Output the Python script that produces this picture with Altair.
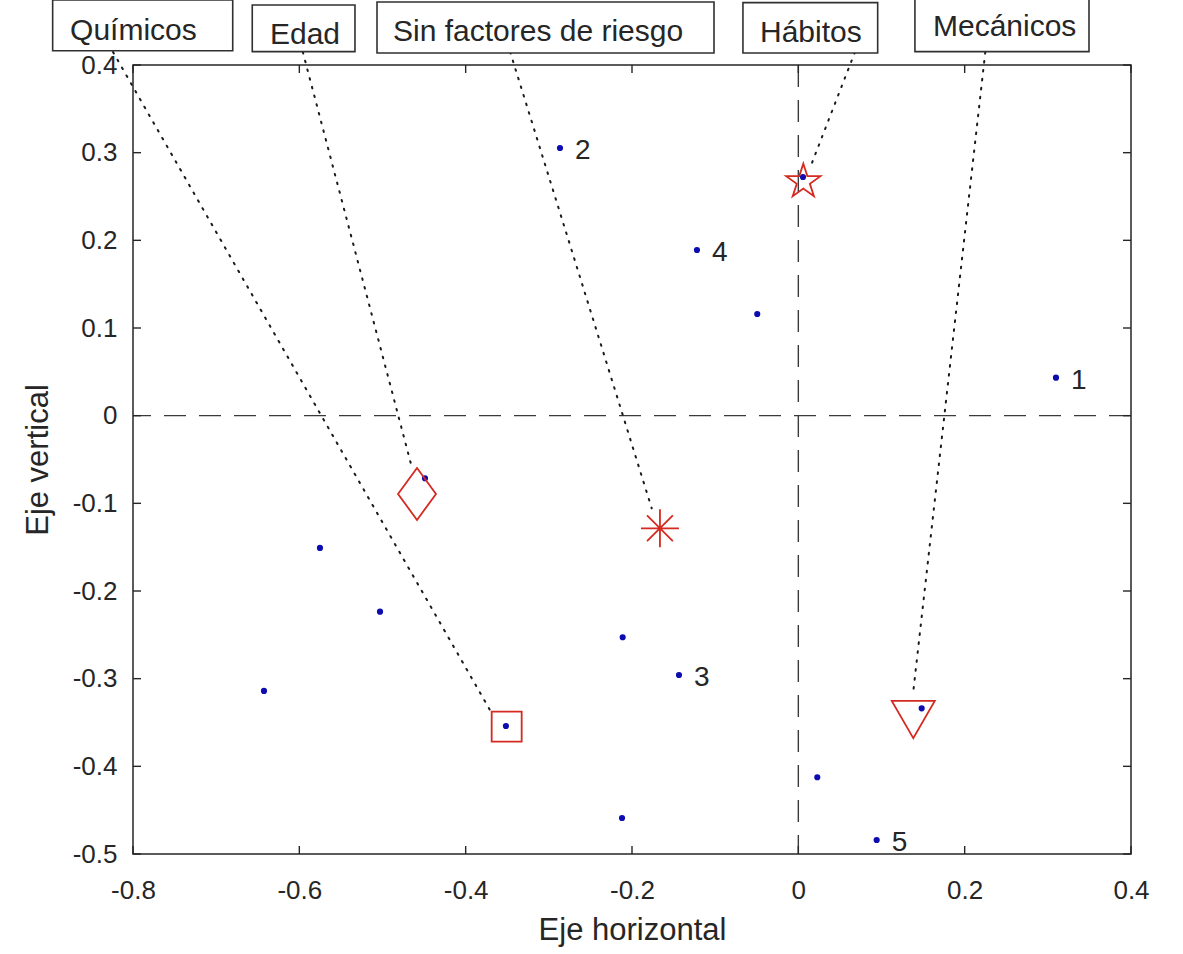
import altair as alt
import pandas as pd

FONT = "Liberation Sans"
INK = "#262626"
RED = "#d42a20"
BLUE = "#0c0cb0"

# Observations (blue dots); the first five carry a number label
obs_x = [0.3098, -0.2866, -0.1435, -0.1219, 0.0942, -0.0494, 0.0056, -0.5752,
         -0.5030, -0.6425, -0.2112, -0.2120, -0.3516, 0.0228, 0.1483, -0.4489]
obs_y = [0.0433, 0.3053, -0.2958, 0.1890, -0.4840, 0.1160, 0.2722, -0.1509,
         -0.2236, -0.3140, -0.2528, -0.4589, -0.3540, -0.4125, -0.3338, -0.0714]
obs_label = ["1", "2", "3", "4", "5"] + [""] * 11

# Group centroids (red markers)
groups = ["Químicos", "Edad", "Sin factores de riesgo", "Hábitos", "Mecánicos"]
grp_x = [-0.3507, -0.4585, -0.1664, 0.0060, 0.1382]
grp_y = [-0.3548, -0.0893, -0.1285, 0.2669, -0.3466]

# Dotted connectors from each group box down to its centroid
link_x0 = [-0.8240, -0.5958, -0.3465, 0.0681, 0.2248]
link_y0 = [0.4148, 0.4148, 0.4148, 0.4148, 0.4148]
link_x1 = [-0.3708, -0.4645, -0.1763, 0.0140, 0.1382]
link_y1 = [-0.3357, -0.0597, -0.1057, 0.2825, -0.3148]

# Framed group names above the axes
box_x0 = [-0.8966, -0.6566, -0.5066, -0.0666, 0.1402]
box_x1 = [-0.6801, -0.5331, -0.1014, 0.0954, 0.3495]
box_y0 = [0.4163, 0.4152, 0.4137, 0.4137, 0.4152]
box_y1 = [0.4741, 0.4684, 0.4719, 0.4711, 0.4753]
name_x = [-0.8757, -0.6353, -0.4874, -0.0461, 0.1619]
name_y = [0.4385, 0.4340, 0.4374, 0.4368, 0.4431]

x_ticks = [-0.8, -0.6, -0.4, -0.2, 0.0, 0.2, 0.4]
y_ticks = [-0.5, -0.4, -0.3, -0.2, -0.1, 0.0, 0.1, 0.2, 0.3, 0.4]

W, H = 998, 789
TICK = 8

xs = alt.Scale(domain=[-0.8, 0.4], nice=False, zero=False)
ys = alt.Scale(domain=[-0.5, 0.4], nice=False, zero=False)

label_expr = "toString(round(datum.value * 10) / 10)"

X_AX = alt.Axis(
    values=x_ticks, labelExpr=label_expr, title="Eje horizontal",
    grid=False, domain=False, ticks=False, tickSize=0, labelPadding=23,
    labelFlush=False, labelOverlap=False,
    labelFont=FONT, labelFontSize=26, labelColor=INK,
    titleFont=FONT, titleFontSize=31, titleFontWeight="normal",
    titleColor=INK, titlePadding=12)
Y_AX = alt.Axis(
    values=y_ticks, labelExpr=label_expr, title="Eje vertical",
    grid=False, domain=False, ticks=False, tickSize=0, labelPadding=16,
    labelFlush=False, labelOverlap=False,
    labelFont=FONT, labelFontSize=26, labelColor=INK,
    titleFont=FONT, titleFontSize=31, titleFontWeight="normal",
    titleColor=INK, titlePadding=18)


def X(field):
    return alt.X(field, scale=xs, axis=X_AX, title="Eje horizontal")


def Y(field):
    return alt.Y(field, scale=ys, axis=Y_AX, title="Eje vertical")


obs = pd.DataFrame({"x": obs_x, "y": obs_y, "label": obs_label})
links = pd.DataFrame({"x": link_x0, "y": link_y0, "x2": link_x1, "y2": link_y1})
boxes = pd.DataFrame({"x": box_x0, "x2": box_x1, "y": box_y0, "y2": box_y1})
names = pd.DataFrame({"x": name_x, "y": name_y, "name": groups})

# Reference lines through the origin
zero_v = alt.Chart(pd.DataFrame({"x": [0.0]})).mark_rule(
    color="#3a3a3a", strokeWidth=1.4, strokeDash=[22, 13]
).encode(x=X("x:Q"))
zero_h = alt.Chart(pd.DataFrame({"y": [0.0]})).mark_rule(
    color="#3a3a3a", strokeWidth=1.4, strokeDash=[22, 13]
).encode(y=Y("y:Q"))

connectors = alt.Chart(links).mark_rule(
    color="#1a1a1a", strokeWidth=2, strokeDash=[1.6, 7.4], strokeCap="round"
).encode(x=X("x:Q"), y=Y("y:Q"), x2="x2:Q", y2="y2:Q")

dots = alt.Chart(obs).mark_circle(size=38, color=BLUE, opacity=1).encode(
    x=X("x:Q"), y=Y("y:Q"))

dot_labels = alt.Chart(obs).mark_text(
    align="left", baseline="middle", dx=15, dy=3,
    font=FONT, fontSize=28, color=INK
).encode(x=X("x:Q"), y=Y("y:Q"), text="label:N")

# Marker outlines for each group centroid
STAR = ("M0,-1L0.2245,-0.309L0.951,-0.309L0.3633,0.118L0.588,0.809L0,0.382"
        "L-0.588,0.809L-0.3633,0.118L-0.951,-0.309L-0.2245,-0.309Z")
ASTERISK = "M-1,0L1,0M0,-1L0,1M-0.68,-0.68L0.68,0.68M-0.68,0.68L0.68,-0.68"
DIAMOND = "M0,-1L0.73,0L0,1L-0.73,0Z"
grp_shape = ["square", DIAMOND, ASTERISK, STAR, "triangle-down"]
grp_size = [900, 2704, 1444, 1300, 1849]

centroid_layers = []
for gx, gy, shp, sz in zip(grp_x, grp_y, grp_shape, grp_size):
    centroid_layers.append(
        alt.Chart(pd.DataFrame({"x": [gx], "y": [gy]})).mark_point(
            shape=shp, size=sz, filled=False, color=RED,
            strokeWidth=1.8, opacity=1
        ).encode(x=X("x:Q"), y=Y("y:Q"))
    )

frames = alt.Chart(boxes).mark_rect(
    fill="white", stroke="#303030", strokeWidth=1.6, clip=False
).encode(x=X("x:Q"), x2="x2:Q", y=Y("y:Q"), y2="y2:Q")

frame_text = alt.Chart(names).mark_text(
    align="left", baseline="middle", font=FONT, fontSize=30, color=INK
).encode(x=X("x:Q"), y=Y("y:Q"), text="name:N")

# Inward ticks on all four sides of the box
xt = pd.DataFrame({"x": x_ticks})
yt = pd.DataFrame({"y": y_ticks})
tick_style = dict(color=INK, strokeWidth=1.4)
ticks_bottom = alt.Chart(xt).mark_rule(**tick_style).encode(
    x=X("x:Q"), y=alt.value(H), y2=alt.value(H - TICK))
ticks_top = alt.Chart(xt).mark_rule(**tick_style).encode(
    x=X("x:Q"), y=alt.value(0), y2=alt.value(TICK))
ticks_left = alt.Chart(yt).mark_rule(**tick_style).encode(
    y=Y("y:Q"), x=alt.value(0), x2=alt.value(TICK))
ticks_right = alt.Chart(yt).mark_rule(**tick_style).encode(
    y=Y("y:Q"), x=alt.value(W), x2=alt.value(W - TICK))

chart = alt.layer(
    zero_v, zero_h, connectors, dots, *centroid_layers, dot_labels,
    frames, frame_text, ticks_bottom, ticks_top, ticks_left, ticks_right,
).properties(
    width=W, height=H,
    autosize=alt.AutoSizeParams(type="none"),
    padding={"left": 133, "top": 65, "right": 52, "bottom": 100},
    background="white",
).configure_view(
    stroke=INK, strokeWidth=1.5
)

chart.save("out.html", embed_options={"renderer": "svg", "actions": False})
